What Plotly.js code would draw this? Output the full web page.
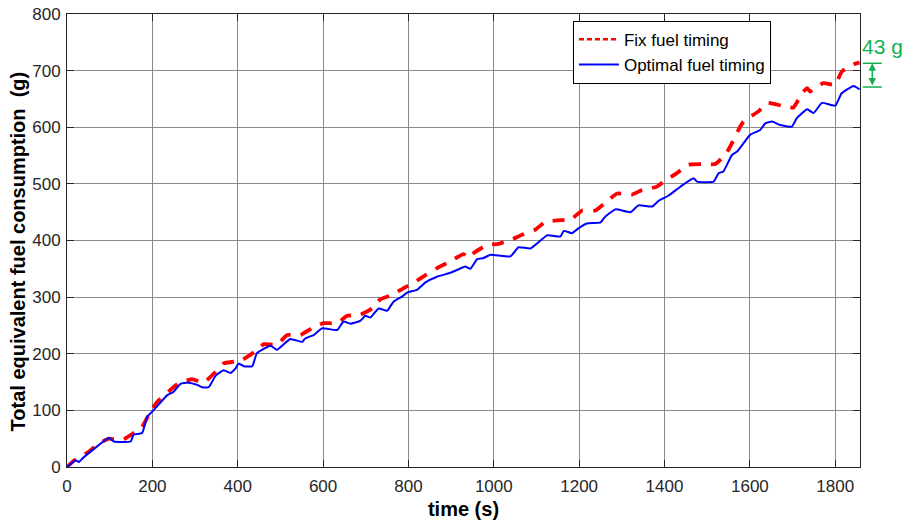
<!DOCTYPE html>
<html>
<head>
<meta charset="utf-8">
<script src="https://cdn.plot.ly/plotly-3.0.1.min.js"></script>
<style>html,body{margin:0;padding:0;background:#fff;}#chart{width:909px;height:527px;}</style>
</head>
<body>
<div id="chart"></div>
<script>
// Fix fuel timing (red, dashed)
const fixTime = [0,16,51,74,98,110,133,160,176,196,211,242,262,293,320,344,367,391,410,441,461,492,516,547,574,601,633,656,687,715,734,762,789,816,840,871,898,929,941,953,984,1011,1043,1066,1097,1121,1156,1179,1207,1238,1265,1289,1324,1347,1382,1402,1429,1456,1487,1519,1542,1554,1573,1585,1620,1640,1675,1702,1722,1734,1741,1772,1800,1815,1843,1857];
const fixFuel = [0,11,27,41,50,49,49,62,71,98,115,136,148,155,149,165,183,186,189,204,217,216,233,233,245,254,254,267,269,280,296,304,316,327,339,353,363,376,369,378,392,394,402,410,419,433,436,436,453,453,469,483,481,489,495,506,519,534,535,535,551,566,595,610,628,643,638,635,660,669,663,678,675,698,711,714];

// Optimal fuel timing (blue, solid)
const optTime = [0,20,28,39,98,110,149,156,176,188,200,235,250,266,285,305,317,332,348,367,383,395,402,414,434,445,477,492,523,551,558,578,598,633,648,664,687,699,711,730,750,765,785,797,820,840,867,898,914,933,945,961,976,992,1039,1058,1086,1125,1156,1164,1183,1199,1218,1250,1261,1285,1320,1339,1371,1386,1409,1437,1468,1476,1515,1527,1538,1558,1570,1601,1624,1636,1652,1671,1698,1710,1734,1749,1769,1800,1815,1843,1857];
const optFuel = [0,12,9,17,51,45,45,57,60,89,98,127,133,147,149,145,141,141,161,171,166,174,183,178,178,201,214,207,226,221,227,233,245,242,257,253,258,267,264,280,276,292,301,308,313,326,336,343,348,354,350,367,369,375,372,388,386,409,407,417,413,422,430,432,442,455,450,462,460,470,479,495,510,504,504,519,522,551,557,587,595,607,610,604,601,616,632,625,643,638,660,673,667];

const seriesNames = ["Fix fuel timing", "Optimal fuel timing"];
const xTicks = [0,200,400,600,800,1000,1200,1400,1600,1800];
const yTicks = [0,100,200,300,400,500,600,700,800];
const gapLabel = "43 g";
const gapTop = 713, gapBottom = 671;

const green = "#14b050";
const fam = "Liberation Sans, Arial, sans-serif";

const traces = [
  {x: fixTime, y: fixFuel, name: seriesNames[0], type: "scatter", mode: "lines", showlegend: false,
   line: {color: "#ff0000", width: 3.8, dash: "12px,10px", shape: "spline", smoothing: 0.4}},
  {x: [null], y: [null], name: seriesNames[0], type: "scatter", mode: "lines",
   line: {color: "#ff0000", width: 2.5, dash: "5px,3px"}},
  {x: optTime, y: optFuel, name: seriesNames[1], type: "scatter", mode: "lines",
   line: {color: "#0000ff", width: 2, shape: "spline", smoothing: 0.4}}
];

const axisCommon = {
  showline: true, linecolor: "#262626", linewidth: 1, mirror: "ticks",
  ticks: "inside", ticklen: 7, tickcolor: "#262626",
  showgrid: true, gridcolor: "#8a8a8a", gridwidth: 1, zeroline: false,
  tickfont: {family: fam, size: 17, color: "#262626"}
};

const layout = {
  width: 909, height: 527,
  margin: {l: 67, r: 49, t: 14, b: 60},
  paper_bgcolor: "#fff", plot_bgcolor: "#fff",
  font: {family: fam, color: "#000"},
  xaxis: Object.assign({}, axisCommon, {
    range: [0, 1858], tickvals: xTicks, ticktext: xTicks.map(String), ticklabelstandoff: 4,
    title: {text: "<b>time (s)</b>", font: {size: 20, color: "#000"}, standoff: 6}
  }),
  yaxis: Object.assign({}, axisCommon, {
    range: [0, 800], tickvals: yTicks, ticktext: yTicks.map(String), ticklabelstandoff: 2,
    title: {text: "<b>Total equivalent fuel consumption&nbsp;&nbsp;(g)&nbsp;&nbsp;&nbsp;&nbsp;</b>", font: {size: 20, color: "#000"}, standoff: 1}
  }),
  showlegend: true,
  legend: {x: 0.638, y: 0.985, xanchor: "left", yanchor: "top",
    bgcolor: "#fff", bordercolor: "#000", borderwidth: 1,
    font: {size: 17, color: "#000"}, tracegroupgap: 0, itemwidth: 40},
  shapes: [
    {type: "line", xref: "paper", yref: "y", x0: 1.0036, x1: 1.0275, y0: gapTop, y1: gapTop, line: {color: green, width: 1.5}},
    {type: "line", xref: "paper", yref: "y", x0: 1.0036, x1: 1.0275, y0: gapBottom, y1: gapBottom, line: {color: green, width: 1.5}}
  ],
  annotations: [
    {xref: "paper", yref: "y", x: 1.0155, y: gapTop, axref: "pixel", ayref: "y", ax: 0, ay: gapBottom,
     showarrow: true, arrowhead: 2, arrowside: "end+start", arrowsize: 1, arrowwidth: 1.5, arrowcolor: green, text: ""},
    {xref: "paper", yref: "y", x: 1.0, y: 742, xanchor: "left", yanchor: "middle", showarrow: false,
     text: gapLabel, font: {size: 21, color: green}}
  ]
};

Plotly.newPlot("chart", traces, layout, {displayModeBar: false, staticPlot: true});
</script>
</body>
</html>
